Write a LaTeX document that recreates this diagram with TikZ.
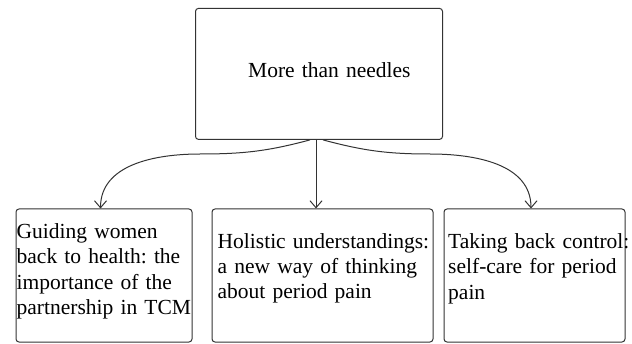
\documentclass[tikz,border=0pt]{standalone}
\usepackage{fontspec}
\setmainfont{Liberation Serif}
\usetikzlibrary{arrows.meta}
\definecolor{linec}{HTML}{333333}
\tikzset{
  box/.style={draw=linec, line width=1pt, rounded corners=3pt, inner sep=0pt},
  txt/.style={anchor=base west, inner sep=0pt, align=left, text width=#1,
              font=\fontsize{21.5}{25.4}\selectfont\frenchspacing},
  arr/.style={draw=linec, line width=1pt, -{Straight Barb[length=7pt,width=12pt]}}
}
\begin{document}
\begin{tikzpicture}[x=1pt,y=1pt]
\useasboundingbox (0,0) rectangle (632,343);
\node[box, minimum width=247pt, minimum height=131pt] (top) at (319,269.1) {};
\node[box, minimum width=176pt, minimum height=133pt] (b1) at (104,67.5) {};
\node[box, minimum width=221pt, minimum height=133pt] (b2) at (322.5,67.5) {};
\node[box, minimum width=181pt, minimum height=133pt] (b3) at (534.5,67.5) {};
\node[txt=240pt] (t0) at (248,265) {More than needles};
\node[txt=240pt] (t1) at (16.5,104.7) {Guiding women\\back to health: the\\importance of the\\partnership in TCM};
\node[txt=240pt] (t2) at (217.5,95) {Holistic understandings:\\a new way of thinking\\about period pain};
\node[txt=240pt] (t3) at (448,94.5) {Taking back control:\\self-care for period\\pain};
\coordinate (wl) at (200,189);
\coordinate (wr) at (430,189);
\draw[arr] ([xshift=-9pt]top.south) to[out=195,in=0] (wl) to[out=180,in=90] ([xshift=-3.5pt]b1.north);
\draw[arr] ([xshift=-3pt]top.south) -- ([xshift=-3pt]top.south |- b2.north);
\draw[arr] ([xshift=4pt]top.south) to[out=-15,in=180] (wr) to[out=0,in=90] ([xshift=-3.5pt]b3.north);
\end{tikzpicture}
\end{document}
